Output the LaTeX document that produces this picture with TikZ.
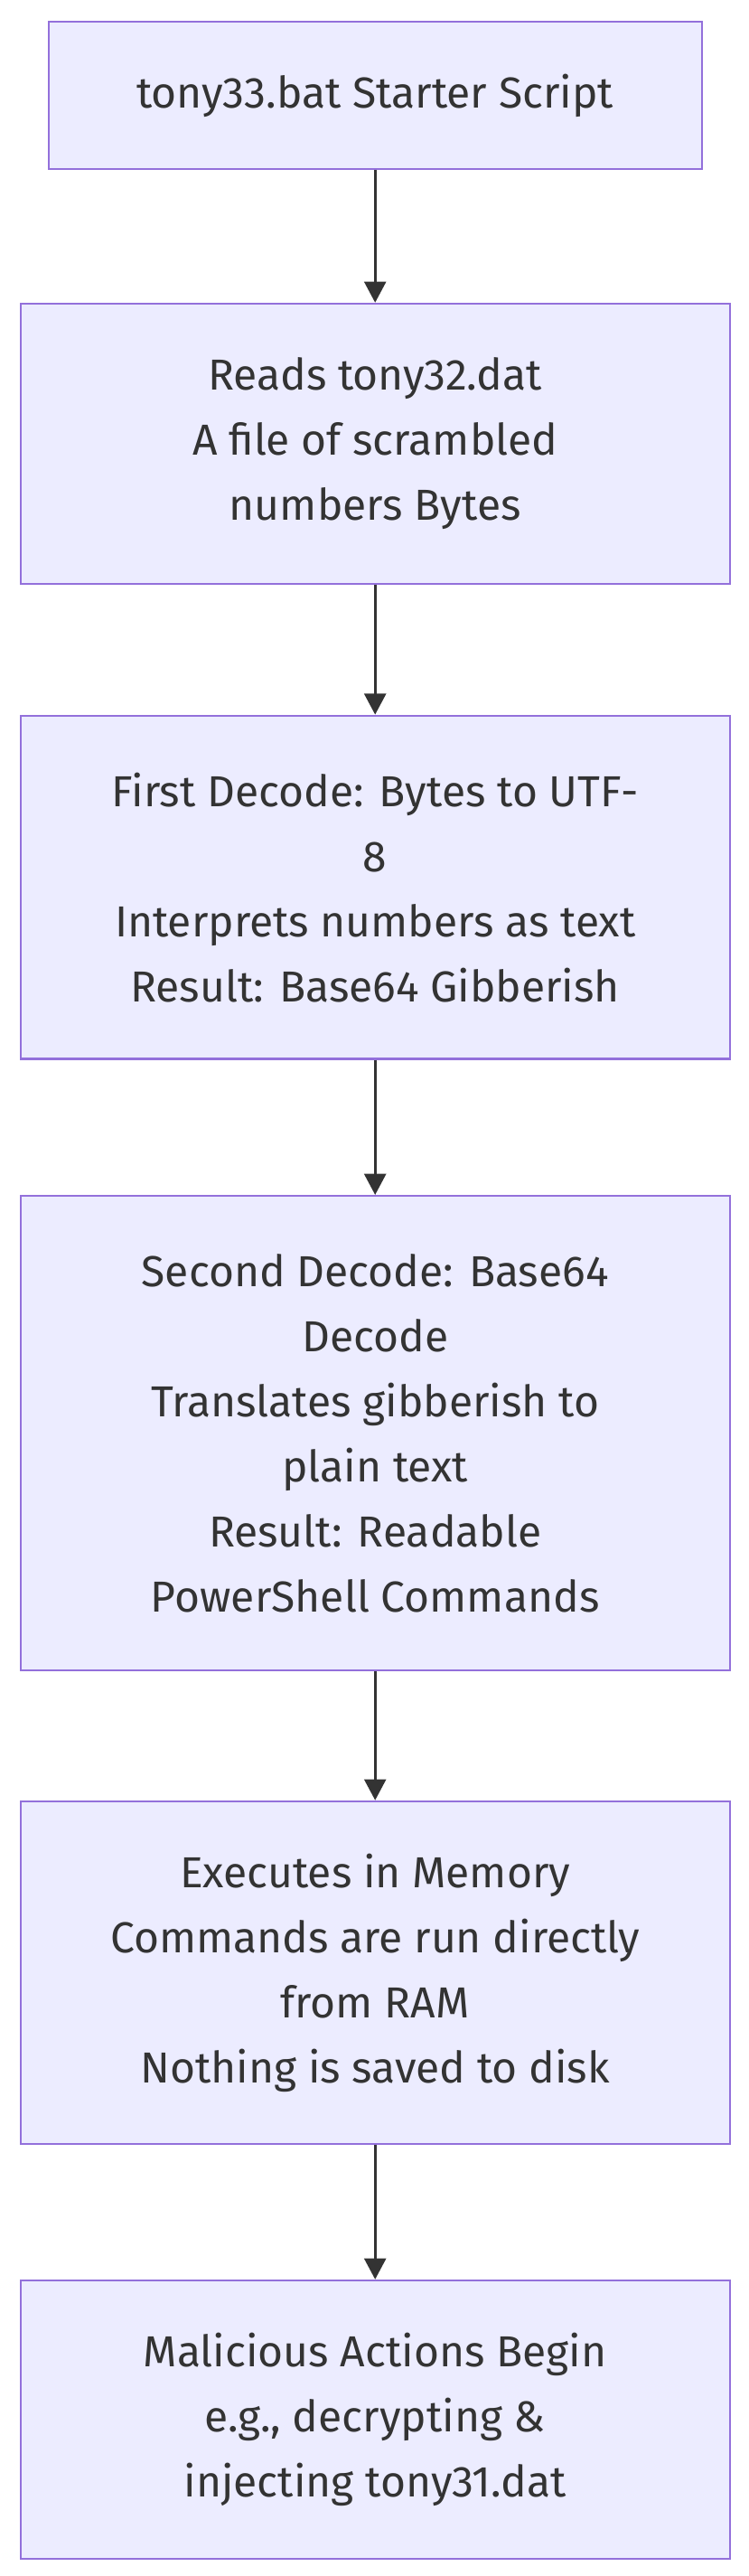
\documentclass[tikz,border=0pt]{standalone}
\usepackage{fontspec}
\setmainfont{Fira Sans}
\usetikzlibrary{arrows.meta}
\definecolor{boxfill}{HTML}{ECECFF}
\definecolor{boxline}{HTML}{9370DB}
\definecolor{ink}{HTML}{333333}
\tikzset{
  stage/.style={draw=boxline, fill=boxfill, line width=0.6pt, text=ink, align=center,
    minimum width=196.25pt, inner sep=0pt, font=\fontsize{12}{18}\selectfont},
  flow/.style={draw=ink, line width=0.65pt, -{Triangle[length=5.8pt,width=6pt]}}
}
\begin{document}
\begin{tikzpicture}
            \useasboundingbox (0pt, 0pt) rectangle (207pt, -712.5pt);
            \node[stage, minimum width=180.75pt, minimum height=40.75pt] (start) at (103.8pt, -26.4pt) {tony33.bat Starter Script};
            \node[stage, minimum height=77.5pt] (readdat) at (103.8pt, -122.75pt) {Reads tony32.dat\\A file of scrambled\\numbers Bytes};
            \node[stage, minimum height=94.9pt] (firstdec) at (103.8pt, -245.4pt) {First Decode: Bytes to UTF-\\8\\Interprets numbers as text\\Result: Base64 Gibberish};
            \node[stage, minimum height=131.25pt] (seconddec) at (103.8pt, -396.4pt) {Second Decode: Base64\\Decode\\Translates gibberish to\\plain text\\Result: Readable\\PowerShell Commands};
            \node[stage, minimum height=94.75pt] (execmem) at (103.8pt, -545.6pt) {Executes in Memory\\Commands are run directly\\from RAM\\Nothing is saved to disk};
            \node[stage, minimum height=77pt] (malicious) at (103.8pt, -669.25pt) {Malicious Actions Begin\\e.g., decrypting \&\\injecting tony31.dat};
            \foreach \a/\b in {start/readdat, readdat/firstdec, firstdec/seconddec, seconddec/execmem, execmem/malicious}
                \draw[flow] (\a) -- (\b);
        \end{tikzpicture}
\end{document}
